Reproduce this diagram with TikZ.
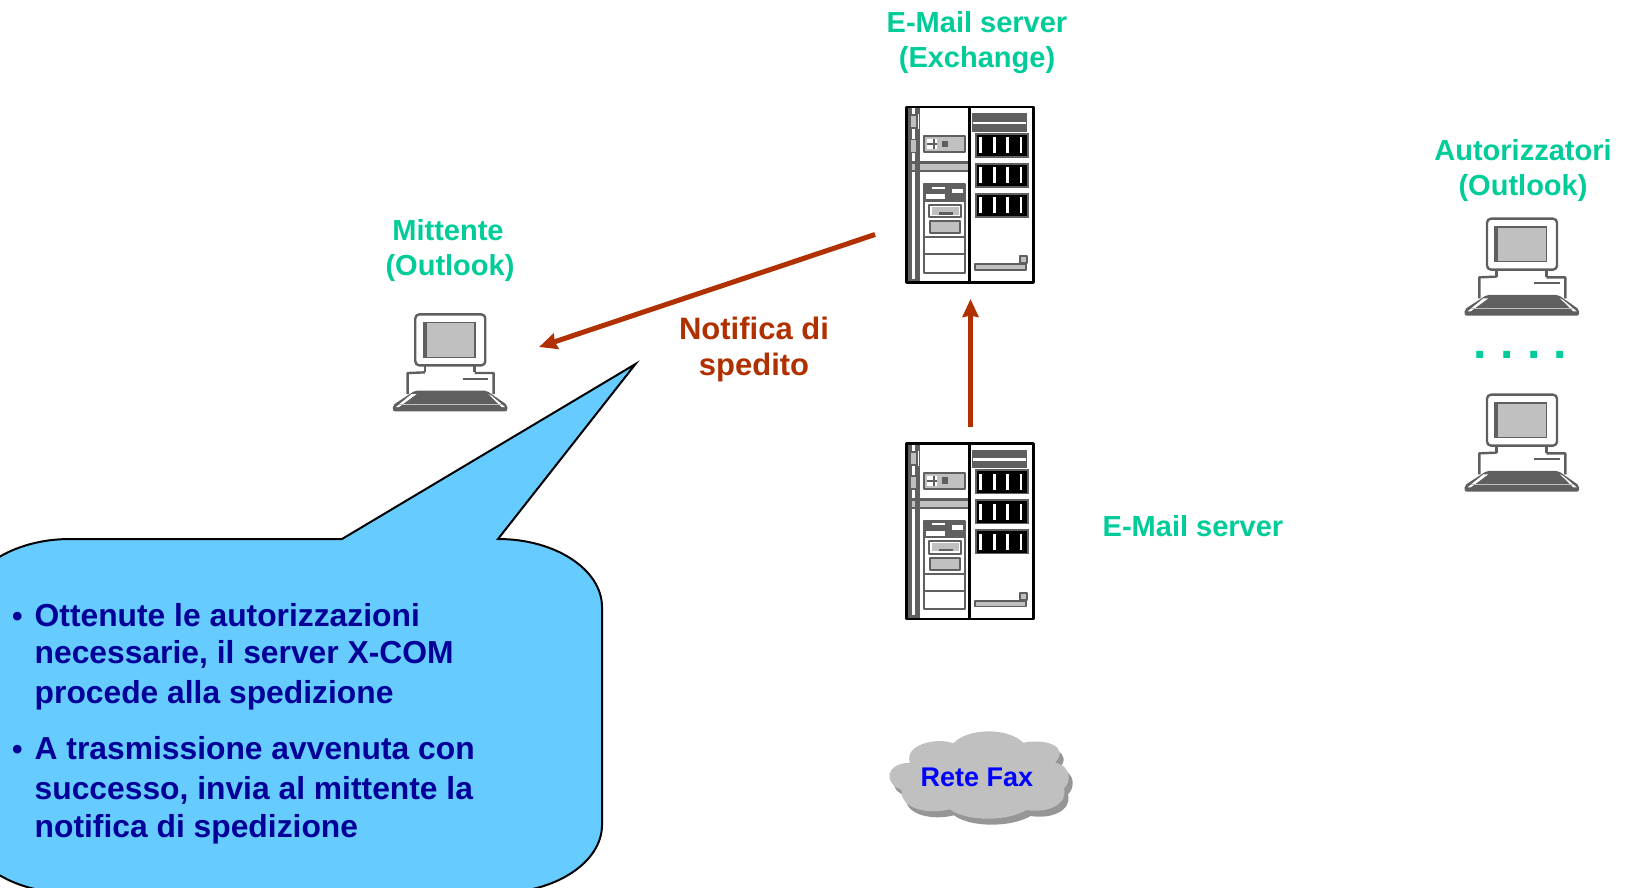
\documentclass[tikz,border=0pt]{standalone}
\usepackage{fontspec}
\setmainfont{Liberation Sans}
\usetikzlibrary{arrows.meta}
\definecolor{grn}{HTML}{00CC99}
\definecolor{brn}{HTML}{B03000}
\definecolor{nvy}{HTML}{000099}
\definecolor{sky}{HTML}{66CCFF}
\definecolor{gd}{HTML}{5F5F5F}
\definecolor{gl}{HTML}{C0C0C0}
\definecolor{gs}{HTML}{969696}
\tikzset{
  lab/.style={text=grn,font=\fontsize{29}{32}\selectfont\bfseries,inner sep=0pt},
  nota/.style={text=brn,font=\fontsize{31}{34}\selectfont\bfseries,inner sep=0pt},
  blt/.style={text=nvy,font=\fontsize{31.8}{34}\selectfont\bfseries,inner sep=0pt,anchor=base west},
  bul/.style={text=nvy,font=\fontsize{30}{32}\selectfont\bfseries,inner sep=0pt,anchor=base west},
  arr/.style={draw=brn,-{Stealth[inset=1.5pt,length=18pt,width=16pt]}},
  gline/.style={draw=gd,line width=2pt,line join=round},
  pcline/.style={draw=gd,line width=2.4pt,line join=round},
}
\newcommand{\drawserver}[2]{%
\begin{scope}[shift={(#1,#2)},x=.3333pt,y=-.3333pt]
  \fill[white] (78,48) rectangle (463,580);
  % left strip
  \fill[gd] (78,48) rectangle (120,580);
  \fill[white] (96,55) rectangle (105,72);
  \fill[white] (96,118) rectangle (105,146);
  \fill[white] (96,190) rectangle (105,214);
  \fill[white] (96,245) rectangle (105,566);
  \fill[gl] (93,78) rectangle (108,112);
  \fill[gl] (93,150) rectangle (108,185);
  \fill[white] (113,72) rectangle (117,118);
  % band
  \fill[gd] (78,214) rectangle (268,246);
  \fill[gl] (120,222) rectangle (265,240);
  \fill[gl] (96,222) rectangle (105,240);
  % switch box
  \draw[gline,fill=gl] (133,138) rectangle (256,187);
  \fill[white] (142,147) rectangle (172,178);
  \fill[gd] (158,147) rectangle (164,178);
  \fill[gd] (142,160) rectangle (172,165);
  \fill[gd] (186,152) rectangle (204,172);
  % lower unit
  \draw[gline] (132,283) rectangle (256,548);
  \fill[gd] (132,283) rectangle (256,335);
  \fill[white] (155,290) rectangle (195,296);
  \fill[white] (138,312) rectangle (195,328);
  \fill[white] (215,296) rectangle (250,310);
  \draw[gline,fill=white] (148,344) rectangle (243,382);
  \fill[gl] (155,350) rectangle (238,374);
  \fill[gd] (178,366) rectangle (218,374);
  \draw[gline,fill=gl] (150,394) rectangle (241,430);
  \draw[gline] (132,442) -- (256,442) (132,492) -- (256,492);
  % right
  \fill[gd] (277,70) rectangle (440,125);
  \fill[white] (280,95) rectangle (437,102);
  \foreach \yy in {128,218,308}{
    \fill[gd] (284,\yy) rectangle (448,\yy+75);
    \fill[black] (290,\yy+6) rectangle (440,\yy+70);
    \foreach \xx in {298,339,379,419}{
      \fill[white] (\xx,\yy+14) rectangle (\xx+8,\yy+62);
    }
  }
  \draw[gline,fill=gl,line width=1.8pt] (286,523) rectangle (438,540);
  \draw[gline,fill=gl,line width=2pt] (421,498) rectangle (440,520);
  % frame
  \draw[black,line width=2.8pt,line join=round] (80,51) rectangle (461,577);
  \draw[black,line width=3pt] (268,51) -- (268,577);
\end{scope}}
\newcommand{\drawpc}[2]{%
\begin{scope}[shift={(#1,#2)},x=.3333pt,y=-.3333pt]
  \draw[pcline,rounded corners=4] (201,266) rectangle (411,419);
  \fill[gd] (223,288) rectangle (382,397);
  \fill[gl] (235,293) rectangle (378,393);
  \draw[pcline] (230,420) -- (230,440) (379,420) -- (379,440);
  \draw[pcline] (230,440) -- (178,442) -- (178,505) (379,442) -- (436,442) -- (436,505);
  \draw[pcline,line width=2pt] (343,459) -- (420,459);
  \fill[gd,rounded corners=2] (200,495) -- (415,495) -- (477,538) -- (477,557) -- (134,557) -- (134,538) -- cycle;
  \fill[white] (205,505) -- (190,505) -- (143,544) -- (152,544) -- cycle;
  \fill[white] (420,505) -- (430,510) -- (470,544) -- (460,544) -- cycle;
  \draw[gl,line width=1pt] (152,536) -- (460,536);
\end{scope}}
\begin{document}
\begin{tikzpicture}[x=1pt,y=-1pt]
  \useasboundingbox (0,0) rectangle (1632,887);
  \begin{scope}
    \clip (0,0) rectangle (1632,887);
    % callout
    \draw[fill=sky,draw=black,line width=2pt,line join=miter]
      (70,539) -- (342,539) -- (635.5,364) -- (498,539)
      .. controls (556,539) and (602,570) .. (602,607)
      -- (602,825)
      .. controls (602,862) and (556,893) .. (497,893)
      -- (70,893)
      .. controls (12,893) and (-35,862) .. (-35,825)
      -- (-35,607)
      .. controls (-35,570) and (12,539) .. (70,539) -- cycle;
    % cloud shadow and cloud
    \begin{scope}[shift={(870,710)},x=.3333pt,y=-.3333pt]
      \foreach \cc/\dx/\dy in {gs/12/18,gl/0/0}{
      \begin{scope}[shift={(\dx,\dy)}]
      \fill[\cc] (95,240) .. controls (40,220) and (45,160) .. (120,158)
        .. controls (100,105) and (200,80) .. (250,100)
        .. controls (290,55) and (410,50) .. (460,98)
        .. controls (530,85) and (600,110) .. (555,158)
        .. controls (610,170) and (600,220) .. (582,235)
        .. controls (595,285) and (530,310) .. (470,300)
        .. controls (410,335) and (290,335) .. (240,298)
        .. controls (170,315) and (90,295) .. (95,240) -- cycle;
      \end{scope}}
    \end{scope}
  \end{scope}
  \drawserver{880}{90}
  \drawserver{880}{426.6}
  \drawpc{348.3}{225.7}
  \drawpc{1420}{130}
  \drawpc{1420}{306}
  % labels
  \node[lab] (l1) at (977,22) {E-Mail server};
  \node[lab] (l2) at (977,60) {(Exchange)};
  \node[lab] (l3) at (448,230) {Mittente};
  \node[lab] (l4) at (450,268) {(Outlook)};
  \node[lab] (l5) at (1523,150) {Autorizzatori};
  \node[lab] (l6) at (1523,188) {(Outlook)};
  \node[lab] (l7) at (1193,526) {E-Mail server};
  \node[nota] (n1) at (754,328) {Notifica di};
  \node[nota] (n2) at (754,367) {spedito};
  \node[text=blue,inner sep=0pt,font=\fontsize{27}{30}\selectfont\bfseries] (fax) at (977,777) {Rete Fax};
  \node[text=grn,inner sep=0pt,anchor=base,font=\fontsize{48}{50}\selectfont\bfseries] (dots) at (1520.5,358)
    {\makebox[26.7pt]{.}\makebox[26.7pt]{.}\makebox[26.7pt]{.}\makebox[26.7pt]{.}};
  % callout text
  \node[bul] (b1) at (12,626) {•};
  \node[blt] (t1) at (34.5,626) {Ottenute le autorizzazioni};
  \node[blt] (t2) at (34.5,663) {necessarie, il server X-COM};
  \node[blt] (t3) at (34.5,703) {procede alla spedizione};
  \node[bul] (b2) at (12,759) {•};
  \node[blt] (t4) at (34.5,759) {A trasmissione avvenuta con};
  \node[blt] (t5) at (34.5,799) {successo, invia al mittente la};
  \node[blt] (t6) at (34.5,837) {notifica di spedizione};
  % connectors
  \coordinate (a1s) at (875,234.5);
  \coordinate (a1e) at (539,347);
  \coordinate (a2s) at (970.5,427);
  \coordinate (a2e) at (970.5,299);
  \draw[arr,line width=5pt] (a1s) -- (a1e);
  \draw[arr,line width=4.5pt] (a2s) -- (a2e);
\end{tikzpicture}
\end{document}
